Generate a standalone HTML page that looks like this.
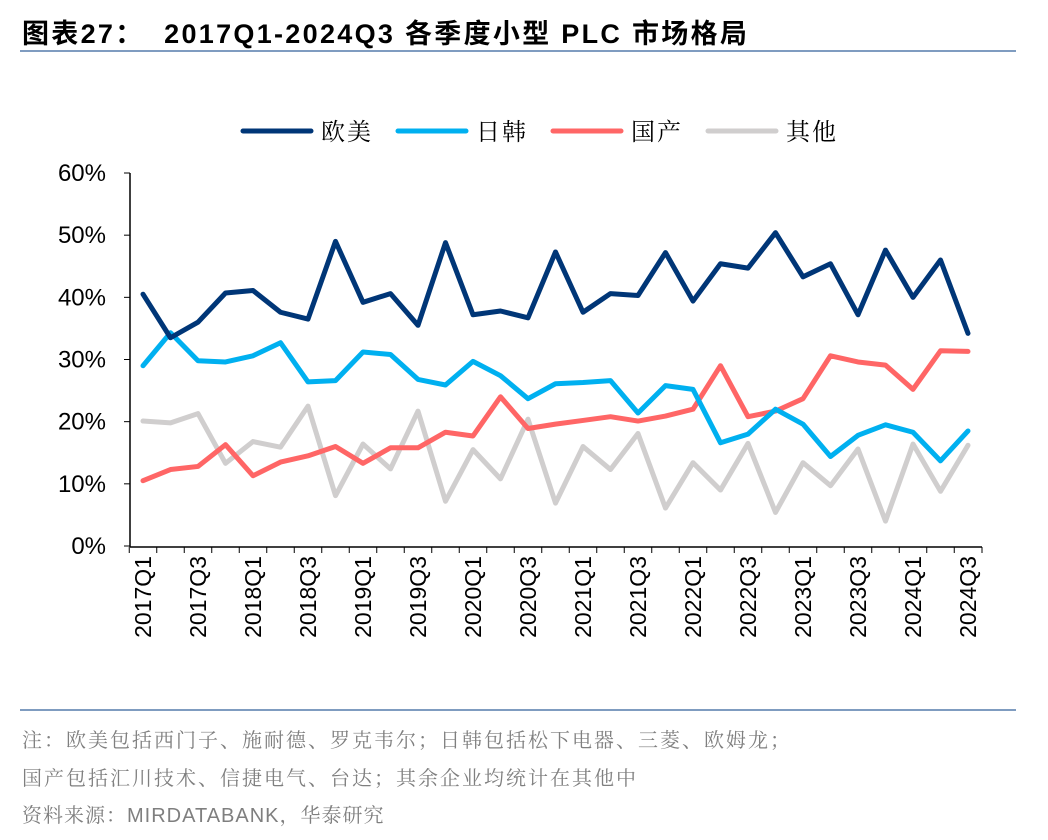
<!DOCTYPE html>
<html><head><meta charset="utf-8"><style>
body{margin:0;background:#fff;width:1048px;height:840px;overflow:hidden;font-family:"Liberation Sans","Noto Sans CJK SC",sans-serif;}
.t{position:absolute;left:22px;top:12px;font-size:27px;font-weight:bold;color:#000;letter-spacing:2.3px;white-space:nowrap;}
.hr{position:absolute;left:20px;width:996px;height:2px;background:#7f9cc0;}
.note{position:absolute;left:22px;font-size:20px;color:#7f7f7f;letter-spacing:2px;white-space:nowrap;font-family:"Liberation Sans","Noto Serif CJK SC",serif;}
</style></head><body>
<div class="t">图表27：&nbsp; 2017Q1-2024Q3 各季度小型 PLC 市场格局</div>
<div class="hr" style="top:50px"></div>
<svg id="c" width="1048" height="700" style="position:absolute;left:0;top:0"></svg>
<div class="hr" style="top:709px"></div>
<div class="note" style="top:724px">注：欧美包括西门子、施耐德、罗克韦尔；日韩包括松下电器、三菱、欧姆龙；</div>
<div class="note" style="top:762px">国产包括汇川技术、信捷电气、台达；其余企业均统计在其他中</div>
<div class="note" style="top:799px;letter-spacing:1px">资料来源：MIRDATABANK，华泰研究</div>
<script>
const quarters=[];for(let y=2017;y<=2024;y++)for(let q=1;q<=4;q++)quarters.push(y+'Q'+q);quarters.length=31;
const euUs=[40.5,33.5,36,40.7,41.1,37.6,36.5,49,39.2,40.6,35.5,48.8,37.2,37.8,36.7,47.3,37.6,40.6,40.3,47.2,39.4,45.4,44.7,50.4,43.3,45.4,37.2,47.6,40,46,34.2];
const jpKr=[29,34.3,29.8,29.6,30.6,32.7,26.4,26.6,31.2,30.8,26.8,25.9,29.7,27.4,23.7,26.1,26.3,26.6,21.4,25.8,25.2,16.6,18,22,19.6,14.4,17.8,19.5,18.3,13.7,18.5];
const domestic=[10.5,12.3,12.8,16.3,11.3,13.5,14.5,16,13.3,15.8,15.8,18.3,17.7,24,18.9,19.6,20.2,20.8,20.1,20.9,22,29,20.8,21.7,23.7,30.6,29.6,29.1,25.2,31.4,31.3];
const others=[20.1,19.8,21.3,13.3,16.8,15.9,22.5,8.1,16.4,12.4,21.7,7.2,15.5,10.8,20.4,6.9,16,12.3,18.1,6.1,13.4,9,16.5,5.4,13.4,9.7,15.6,4,16.4,8.8,16.2];
const yTicks=[0,10,20,30,40,50,60];
const seriesNames=['欧美','日韩','国产','其他'];
const colors=['#003677','#00b0f0','#ff6666','#d0cece'];
const svg=document.getElementById('c');const NS='http://www.w3.org/2000/svg';
const X=i=>143+i*(825/(quarters.length-1));const Y=v=>546-v*(373/60);
function mk(t,a){const e=document.createElementNS(NS,t);for(const k in a)e.setAttribute(k,a[k]);svg.appendChild(e);return e;}
let ax=mk('line',{x1:130,y1:173,x2:130,y2:547,stroke:'#000','stroke-width':1.5});


let bx=mk('line',{x1:130,y1:547,x2:982,y2:547,stroke:'#000','stroke-width':1.5});


yTicks.forEach(v=>{mk('line',{x1:124,x2:130,y1:Y(v),y2:Y(v),stroke:'#000'});
const t=mk('text',{x:106,y:Y(v)+8,'text-anchor':'end','font-size':24,fill:'#000'});t.textContent=v+'%';

});
quarters.forEach((q,i)=>{const x=X(i)-13.75;mk('line',{x1:x,x2:x,y1:547,y2:553,stroke:'#000'});
if(i%2==0){const t=mk('text',{x:0,y:0,'text-anchor':'end','font-size':23,fill:'#000',transform:`translate(${X(i)+8},556) rotate(-90)`});t.textContent=q;

}});
mk('line',{x1:982,x2:982,y1:547,y2:553,stroke:'#000'});
[others,domestic,jpKr,euUs].forEach((s,k)=>{const idx=3-k;
const p=mk('polyline',{points:s.map((v,i)=>X(i)+','+Y(v)).join(' '),fill:'none',stroke:colors[idx],'stroke-width':5,'stroke-linejoin':'round','stroke-linecap':'round'});

});
const lx=[243,398,553,708];
seriesNames.forEach((n,i)=>{const g=mk('line',{x1:lx[i],x2:lx[i]+68,y1:131,y2:131,stroke:colors[i],'stroke-width':5,'stroke-linecap':'round'});


const t=mk('text',{x:lx[i]+78,y:140,'font-size':24,fill:'#000','font-family':'"Noto Serif CJK SC",serif','letter-spacing':2});t.textContent=n;

});
</script>
</body></html>
